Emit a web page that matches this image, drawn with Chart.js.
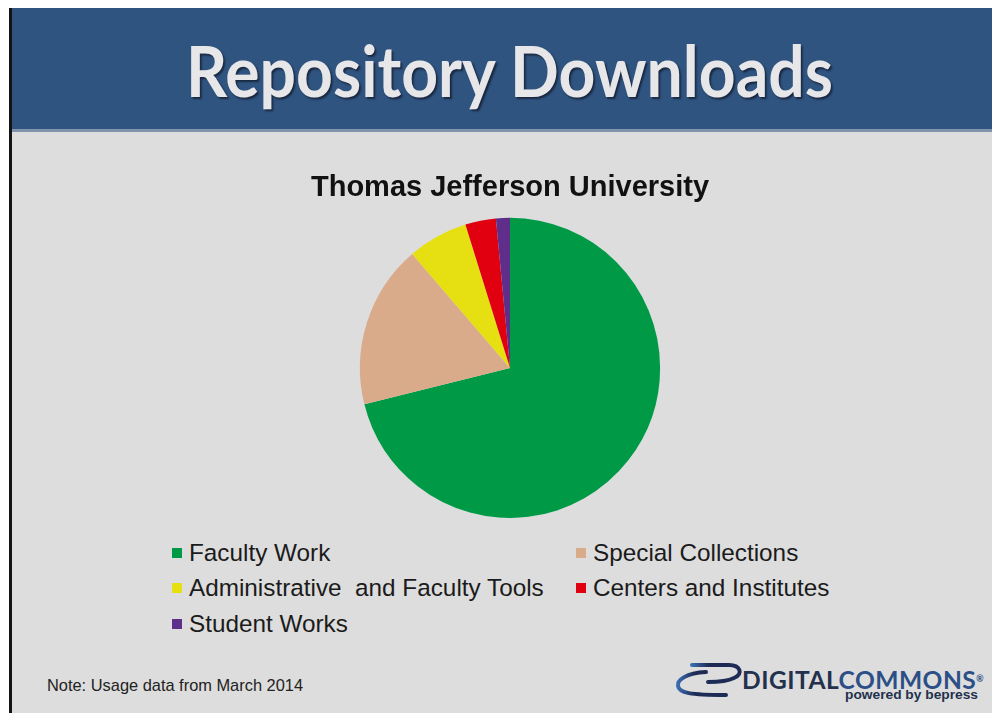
<!DOCTYPE html>
<html>
<head>
<meta charset="utf-8">
<script src="https://cdn.jsdelivr.net/npm/chart.js@4/dist/chart.umd.min.js"></script>
<style>
  html, body { margin: 0; padding: 0; }
  body { width: 995px; height: 713px; background: #ffffff; position: relative; overflow: hidden;
         font-family: "Liberation Sans", Arial, sans-serif; }
  .slide { position: absolute; left: 9px; top: 8px; width: 983px; height: 705px; background: #dddddd;
           border-left: 3px solid #141414; box-sizing: border-box; }
  .header { position: absolute; left: 12px; top: 8px; width: 980px; height: 121px; background: #2f5480;
            border-bottom: 3px solid #7f93ad; }
  .header-title { position: absolute; left: 174px; top: 17px; display: inline-block; white-space: nowrap;
                  font-family: Lato, "DejaVu Sans", sans-serif; font-weight: 700; font-size: 70px; line-height: 90px;
                  color: #e7e7e9; text-shadow: 2px 2px 2px #1a2840; transform-origin: left center; }
  #chartBox { position: absolute; left: 300px; top: 168px; width: 420px; height: 350px; }
  #legend { position: absolute; left: 172px; top: 535px; display: grid;
            grid-template-columns: 404px auto; grid-auto-rows: 35.5px; }
  .item { display: flex; align-items: center; font-size: 24.3px; color: #1b1b1b; white-space: pre; }
  .item .box { width: 10px; height: 10px; margin-right: 7px; flex: none; }
  .note { position: absolute; left: 47px; top: 676px; font-size: 16.4px; color: #222; white-space: nowrap; }
  .logo { position: absolute; left: 674px; top: 662px; width: 320px; height: 44px; }
  .logo .word { position: absolute; left: 68px; top: 3px; display: inline-block; white-space: nowrap;
                font-family: Lato, "DejaVu Sans", sans-serif; font-weight: 700; font-size: 25px; line-height: 28px;
                transform-origin: left center; letter-spacing: 0.5px; }
  .logo .d { color: #23314d; }
  .logo .c { color: #2b4f86; }
  .logo .reg { font-size: 9px; vertical-align: top; color: #2b4f86; }
  .logo .by { position: absolute; left: 171px; top: 25px; display: inline-block; font-size: 13px; font-weight: bold;
              color: #23314d; white-space: nowrap; transform-origin: left center;
              font-family: "Liberation Sans", Arial, sans-serif; }
</style>
</head>
<body>
<div class="slide"></div>
<div class="header"><span class="header-title" id="hdr">Repository Downloads</span></div>
<div id="chartBox"><canvas id="pie"></canvas></div>
<div id="legend"></div>
<div class="note">Note: Usage data from March 2014</div>
<div class="logo">
  <svg width="70" height="44" viewBox="0 0 70 44" style="position:absolute;left:0;top:0">
    <defs>
      <linearGradient id="sw" x1="0" y1="0" x2="1" y2="0">
        <stop offset="0" stop-color="#3a6cb0"/>
        <stop offset="0.35" stop-color="#1d2b55"/>
        <stop offset="1" stop-color="#1d2b55"/>
      </linearGradient>
    </defs>
    <path d="M18 3 L55 3 C66 3, 70 12, 60 16 C54 19, 44 20, 34 20" fill="none" stroke="url(#sw)" stroke-width="4" stroke-linecap="round"/>
    <path d="M32 10 C12 11, 3 18, 4 24 C5 31, 16 33, 52 33" fill="none" stroke="url(#sw)" stroke-width="4" stroke-linecap="round"/>
  </svg>
  <span class="word" id="logoWord"><span class="d">DIGITAL</span><span class="c">COMMONS</span><span class="reg">®</span></span>
  <span class="by" id="logoBy">powered by bepress</span>
</div>
<script>
const categories = ['Faculty Work', 'Special Collections', 'Administrative  and Faculty Tools', 'Centers and Institutes', 'Student Works'];
const downloadShare = [71.1, 17.6, 6.5, 3.3, 1.5];
const sliceColors = ['#009a47', '#daab8b', '#e6df12', '#e0000f', '#5f2e8a'];

function stretchTo(el, target) {
    const w = el.getBoundingClientRect().width;
    el.style.transform = 'scaleX(' + (target / w) + ')';
}
stretchTo(document.getElementById('hdr'), 647);
stretchTo(document.getElementById('logoWord'), 242);
stretchTo(document.getElementById('logoBy'), 133);

new Chart(document.getElementById('pie'), {
    type: 'pie',
    data: {
        labels: categories,
        datasets: [{
            data: downloadShare,
            backgroundColor: sliceColors,
            borderWidth: 0
        }]
    },
    options: {
        responsive: true,
        maintainAspectRatio: false,
        animation: false,
        layout: { padding: { top: 3, bottom: 0, left: 0, right: 0 } },
        plugins: {
            legend: { display: false },
            tooltip: { enabled: false },
            title: {
                display: true,
                text: 'Thomas Jefferson University',
                color: '#111111',
                font: { family: '"Liberation Sans", Arial, sans-serif', size: 29, weight: 'bold' },
                padding: { top: 0, bottom: 12 }
            }
        }
    }
});

// legend in two columns, like the slide
const legend = document.getElementById('legend');
categories.forEach((name, i) => {
    const item = document.createElement('div');
    item.className = 'item';
    const box = document.createElement('span');
    box.className = 'box';
    box.style.background = sliceColors[i];
    item.appendChild(box);
    item.appendChild(document.createTextNode(name));
    legend.appendChild(item);
});
</script>
</body>
</html>
